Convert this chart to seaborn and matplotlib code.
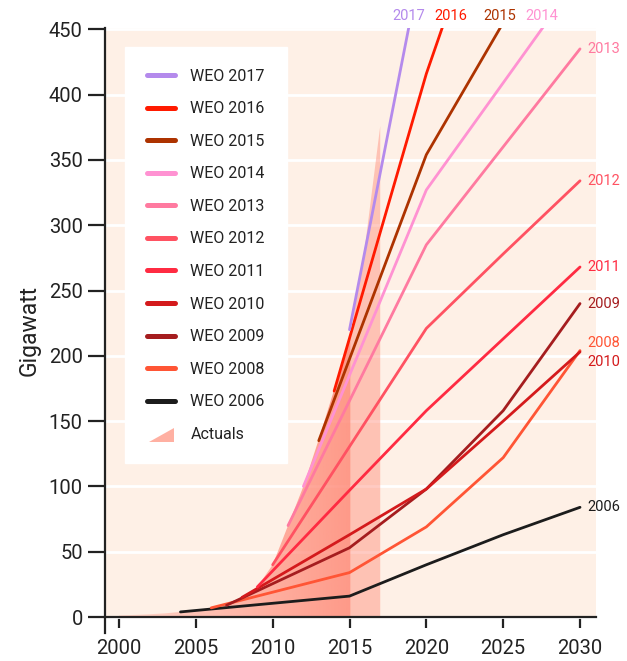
import numpy as np
import pandas as pd
import matplotlib.pyplot as plt
import seaborn as sns
from matplotlib.lines import Line2D
from matplotlib.patches import Polygon, Patch
from matplotlib.legend_handler import HandlerPatch
from matplotlib.colors import to_rgb

# Actual installed solar PV capacity (GW)
actual_years = [2000, 2001, 2002, 2003, 2004, 2005, 2006, 2007, 2008,
                2009, 2010, 2011, 2012, 2013, 2014, 2015, 2016, 2017]
actual_gw = [1.2, 1.6, 2.1, 2.8, 3.9, 5.3, 7, 9.5, 15.5,
             23, 40, 70, 100, 136, 174, 212, 283, 376]

# WEO projections (years / GW)
weo_labels = ['WEO 2017', 'WEO 2016', 'WEO 2015', 'WEO 2014', 'WEO 2013', 'WEO 2012',
              'WEO 2011', 'WEO 2010', 'WEO 2009', 'WEO 2008', 'WEO 2006']
weo_years = {
    'WEO 2017': [2015, 2020],
    'WEO 2016': [2014, 2020, 2025],
    'WEO 2015': [2013, 2020, 2025],
    'WEO 2014': [2012, 2020, 2025, 2030],
    'WEO 2013': [2011, 2020, 2025, 2030],
    'WEO 2012': [2010, 2020, 2025, 2030],
    'WEO 2011': [2009, 2015, 2020, 2025, 2030],
    'WEO 2010': [2008, 2015, 2020, 2025, 2030],
    'WEO 2009': [2007, 2015, 2020, 2025, 2030],
    'WEO 2008': [2006, 2015, 2020, 2025, 2030],
    'WEO 2006': [2004, 2015, 2020, 2025, 2030],
}
weo_gw = {
    'WEO 2017': [220, 520],
    'WEO 2016': [173, 416, 586],
    'WEO 2015': [135, 354, 455],
    'WEO 2014': [100, 327, 409, 491],
    'WEO 2013': [70, 285, 360, 435],
    'WEO 2012': [40, 221, 278, 334],
    'WEO 2011': [23, 97, 158, 213, 268],
    'WEO 2010': [15, 63, 98, 150, 203],
    'WEO 2009': [9, 53, 98, 158, 240],
    'WEO 2008': [7, 34, 69, 122, 204],
    'WEO 2006': [3.9, 16, 40, 63, 84],
}
colors = {
    'WEO 2017': '#b48aec', 'WEO 2016': '#ff1a00', 'WEO 2015': '#ad3300',
    'WEO 2014': '#ff92d2', 'WEO 2013': '#ff7aa0', 'WEO 2012': '#ff5262',
    'WEO 2011': '#ff2b42', 'WEO 2010': '#d41a1c', 'WEO 2009': '#a51d1f',
    'WEO 2008': '#ff5535', 'WEO 2006': '#1c1c1c',
}

rows = []
for name in weo_labels:
    for yr, v in zip(weo_years[name], weo_gw[name]):
        rows.append({'WEO': name, 'Year': yr, 'GW': v})
df = pd.DataFrame(rows)

sns.set_style('white')
plt.rcParams['font.family'] = ['Roboto', 'DejaVu Sans']
text_col = '#222222'

fig = plt.figure(figsize=(6.27, 6.61), dpi=100)
ax = fig.add_axes([105 / 627, 1 - 633 / 661, 491 / 627, 605 / 661])

YTOP = 451
ax.axhspan(0, YTOP, color='#fef0e6', zorder=0, lw=0)

# actuals: gradient filled area
poly = ax.fill_between(actual_years, actual_gw, 0, facecolor='none', edgecolor='none')
gx = np.linspace(2000, 2017, 400)
alpha = np.interp(gx, [2000, 2015, 2015.05, 2017], [0.25, 0.85, 0.45, 0.45])
rgba = np.zeros((1, gx.size, 4))
rgba[..., :3] = to_rgb('#ff8a78')
rgba[0, :, 3] = alpha
im = ax.imshow(rgba, extent=[2000, 2017, 0, max(actual_gw)], aspect='auto',
               origin='lower', zorder=1.5, interpolation='bilinear')
im.set_clip_path(poly.get_paths()[0], transform=ax.transData)

sns.lineplot(data=df, x='Year', y='GW', hue='WEO', hue_order=weo_labels[::-1],
             palette=colors, linewidth=2.0, legend=False, ax=ax, zorder=3)

ax.set_xlim(1999.09, 2031.04)
ax.set_ylim(-12.25, YTOP)
ax.set_xticks(range(2000, 2031, 5))
ax.set_yticks(range(0, 451, 50))
ax.grid(axis='y', color='white', lw=2)
ax.grid(axis='x', visible=False)
ax.set_axisbelow(True)

for s in ['top', 'right']:
    ax.spines[s].set_visible(False)
ax.spines['bottom'].set_position(('data', 0))
for s in ['left', 'bottom']:
    ax.spines[s].set_color(text_col)
    ax.spines[s].set_linewidth(1.6)
ax.tick_params(axis='x', length=8, width=1.6, color=text_col, labelsize=14.5,
               labelcolor=text_col, pad=8, direction='out', bottom=True)
ax.tick_params(axis='y', length=12, width=1.6, color=text_col, labelsize=14.5,
               labelcolor=text_col, pad=4, left=True)
ax.set_xlabel('')
ax.set_ylabel('Gigawatt', fontsize=16.5, color=text_col, labelpad=6)

# labels at the top edge where lines leave the chart
top_nudge = {'WEO 2016': 0.6}
for name in ['WEO 2017', 'WEO 2016', 'WEO 2015', 'WEO 2014']:
    xs, ys = weo_years[name], weo_gw[name]
    xc = np.interp(450, ys, xs)
    ax.text(xc + top_nudge.get(name, 0), 460, name[-4:], color=colors[name],
            ha='center', va='center', fontsize=10.5, clip_on=False)

# labels at the right end
right_nudge = {'WEO 2008': 6, 'WEO 2010': -8}
for name in ['WEO 2013', 'WEO 2012', 'WEO 2011', 'WEO 2009', 'WEO 2008', 'WEO 2010', 'WEO 2006']:
    ax.text(2030.45, weo_gw[name][-1] + right_nudge.get(name, 0), name[-4:],
            color=colors[name], ha='left', va='center', fontsize=10.5, clip_on=False)


class TriangleHandler(HandlerPatch):
    def create_artists(self, legend, orig_handle, xdescent, ydescent,
                       width, height, fontsize, trans):
        x0, y0 = -xdescent + 2, -ydescent - 2
        w, h = width - 3, height + 2
        tri = Polygon([[x0, y0], [x0 + w, y0], [x0 + w, y0 + h]], closed=True,
                      facecolor='#ffb0a2', edgecolor='none', transform=trans)
        return [tri]


handles = [Line2D([0], [0], color=colors[n], lw=3.6, solid_capstyle='round')
           for n in weo_labels]
act = Patch(facecolor='#ffb0a2')
handles.append(act)
labels = weo_labels + ['Actuals']
leg = ax.legend(handles, labels, loc='upper left', bbox_to_anchor=(0.0407, 0.9686),
                borderaxespad=0, frameon=True, fancybox=False, framealpha=1,
                edgecolor='white', facecolor='white', fontsize=11.5,
                handlelength=1.8, handletextpad=0.95, labelspacing=1.1,
                borderpad=1.35, handler_map={Patch: TriangleHandler()})
for t in leg.get_texts():
    t.set_color(text_col)
leg.set_zorder(4)

fig.savefig('out.png', dpi=100)
